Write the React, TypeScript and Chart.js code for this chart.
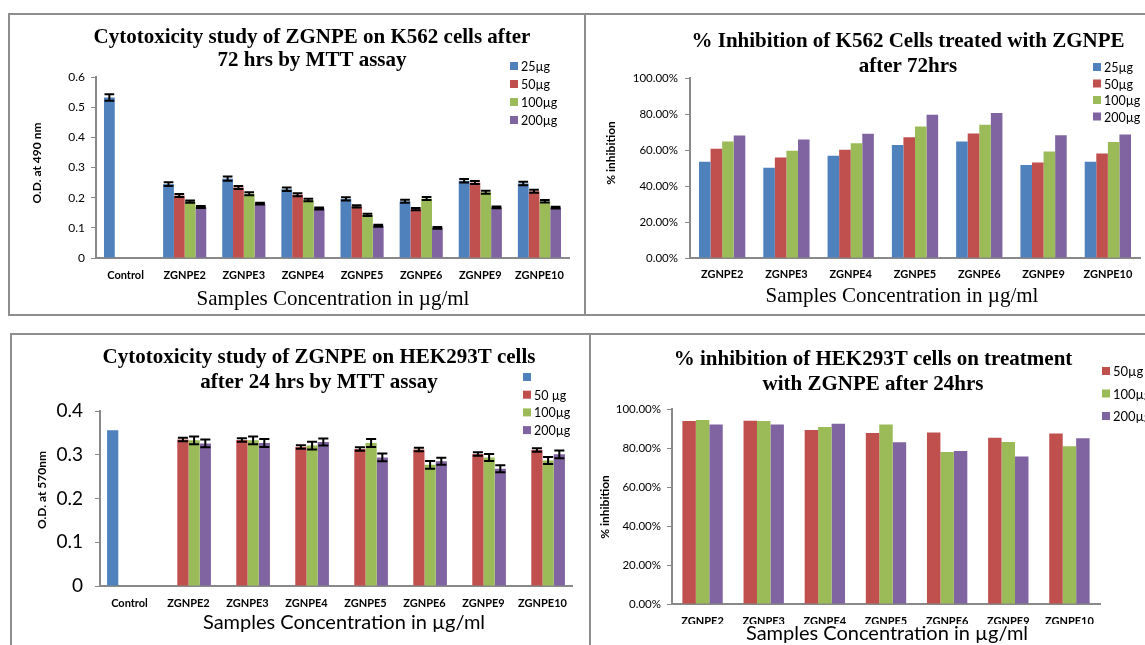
import React, { useEffect, useRef } from 'react';
import { Chart, registerables } from 'chart.js';

Chart.register(...registerables);

// ---- data ----
const odCategories = ['Control', 'ZGNPE2', 'ZGNPE3', 'ZGNPE4', 'ZGNPE5', 'ZGNPE6', 'ZGNPE9', 'ZGNPE10'];
const extractCategories = ['ZGNPE2', 'ZGNPE3', 'ZGNPE4', 'ZGNPE5', 'ZGNPE6', 'ZGNPE9', 'ZGNPE10'];

const k562Doses = ['25µg', '50µg', '100µg', '200µg'];
const hekOdDoses = ['', '50 µg', '100µg', '200µg'];
const hekInhDoses = ['50µg', '100µg', '200µg'];

// K562, O.D. at 490 nm after 72 hrs
const k562Od25 = [0.532, 0.245, 0.263, 0.228, 0.196, 0.188, 0.256, 0.247];
const k562Od50 = [null, 0.207, 0.234, 0.21, 0.171, 0.162, 0.25, 0.221];
const k562Od100 = [null, 0.187, 0.213, 0.192, 0.143, 0.197, 0.218, 0.188];
const k562Od200 = [null, 0.169, 0.18, 0.164, 0.107, 0.1, 0.168, 0.167];
const k562Err25 = [0.011, 0.006, 0.007, 0.006, 0.005, 0.005, 0.006, 0.006];
const k562Err50 = [null, 0.005, 0.005, 0.005, 0.004, 0.004, 0.005, 0.005];
const k562Err100 = [null, 0.004, 0.005, 0.004, 0.004, 0.005, 0.005, 0.004];
const k562Err200 = [null, 0.003, 0.003, 0.003, 0.003, 0.003, 0.003, 0.003];

// K562, % inhibition after 72 hrs
const k562Inh25 = [53.5, 50.1, 56.8, 62.8, 64.7, 51.6, 53.5];
const k562Inh50 = [60.7, 55.9, 60.2, 67.1, 69.2, 53.1, 58.1];
const k562Inh100 = [64.7, 59.6, 63.7, 73.1, 74.0, 59.1, 64.5];
const k562Inh200 = [68.0, 65.8, 69.0, 79.6, 80.6, 68.2, 68.6];

// HEK293T, O.D. at 570 nm after 24 hrs
const hekOdControl = [0.356, null, null, null, null, null, null, null];
const hekOd50 = [null, 0.335, 0.334, 0.318, 0.313, 0.312, 0.302, 0.311];
const hekOd100 = [null, 0.333, 0.333, 0.321, 0.327, 0.277, 0.294, 0.287];
const hekOd200 = [null, 0.326, 0.327, 0.329, 0.294, 0.285, 0.268, 0.301];
const hekErr50 = [null, 0.004, 0.004, 0.004, 0.004, 0.004, 0.004, 0.004];
const hekErr100 = [null, 0.009, 0.009, 0.009, 0.009, 0.009, 0.008, 0.008];
const hekErr200 = [null, 0.009, 0.009, 0.008, 0.009, 0.008, 0.008, 0.009];

// HEK293T, % inhibition after 24 hrs
const hekInh50 = [93.8, 94.0, 89.2, 87.7, 87.9, 85.3, 87.5];
const hekInh100 = [94.4, 93.8, 90.8, 92.0, 77.9, 83.1, 80.9];
const hekInh200 = [92.1, 92.1, 92.5, 82.9, 78.5, 75.7, 85.0];

// ---- styling ----
const BLUE = '#4F81BD';
const RED = '#C0504D';
const GREEN = '#9BBB59';
const PURPLE = '#8064A2';
const AXIS = '#898989';
const SANS = 'Lato, "Open Sans", sans-serif';
const SERIF = '"Liberation Serif", "Times New Roman", serif';

// Vertical error bars with caps, drawn from each dataset's `errors` list
const errorBarPlugin = {
  id: 'errorBars',
  afterDatasetsDraw(chart: any) {
    const { ctx } = chart;
    const yScale = chart.scales.y;
    chart.data.datasets.forEach((ds: any, di: number) => {
      const errs = ds.errors;
      if (!errs) return;
      const meta = chart.getDatasetMeta(di);
      meta.data.forEach((bar: any, i: number) => {
        const v = ds.data[i];
        const e = errs[i];
        if (v == null || e == null) return;
        const top = yScale.getPixelForValue(v + e);
        const bot = yScale.getPixelForValue(v - e);
        const half = bar.width * 0.45;
        ctx.save();
        ctx.strokeStyle = '#000';
        ctx.lineWidth = 2;
        ctx.beginPath();
        ctx.moveTo(bar.x, top);
        ctx.lineTo(bar.x, bot);
        ctx.moveTo(bar.x - half, top);
        ctx.lineTo(bar.x + half, top);
        ctx.moveTo(bar.x - half, bot);
        ctx.lineTo(bar.x + half, bot);
        ctx.stroke();
        ctx.restore();
      });
    });
  },
};

// Title, axis titles and legend placed at fixed spots on the canvas
function panelText(cfg: any) {
  return {
    id: 'panelText',
    afterDraw(chart: any) {
      const ctx = chart.ctx;
      ctx.save();
      ctx.fillStyle = '#000';
      ctx.textAlign = 'center';
      ctx.textBaseline = 'middle';
      const t = cfg.title;
      ctx.font = t.font;
      t.lines.forEach((line: string, i: number) => ctx.fillText(line, t.x, t.y + i * t.lineHeight));

      const xt = cfg.xTitle;
      ctx.font = xt.font;
      ctx.fillText(xt.text, xt.x, xt.y);

      const yt = cfg.yTitle;
      ctx.save();
      ctx.translate(yt.x, yt.y);
      ctx.rotate(-Math.PI / 2);
      ctx.font = yt.font;
      ctx.fillText(yt.text, 0, 0);
      ctx.restore();

      const lg = cfg.legend;
      ctx.textAlign = 'left';
      ctx.font = lg.font;
      chart.data.datasets.forEach((ds: any, i: number) => {
        const cy = lg.y + i * lg.gap;
        ctx.fillStyle = ds.backgroundColor;
        ctx.fillRect(lg.x, cy - lg.box / 2, lg.box, lg.box);
        ctx.fillStyle = '#000';
        ctx.fillText(ds.label, lg.x + lg.box + 3, cy + 1);
      });
      ctx.restore();
    },
  };
}

function makeScales(o: any) {
  return {
    x: {
      grid: { display: false, drawTicks: false },
      border: { display: true, color: AXIS, width: 2 },
      ticks: {
        font: { family: SANS, size: 11, weight: 'bold' },
        color: '#000',
        padding: o.xPad,
        maxRotation: 0,
        autoSkip: false,
      },
      afterFit: (s: any) => {
        s.height = o.xHeight;
      },
    },
    y: {
      min: o.min,
      max: o.max,
      ticks: {
        stepSize: o.step,
        font: { family: SANS, size: o.yFontSize },
        color: '#000',
        padding: o.yPad,
        callback: o.fmt,
      },
      grid: { display: true, drawOnChartArea: false, drawTicks: true, tickLength: 5, color: AXIS, lineWidth: 1 },
      border: { display: true, color: AXIS, width: 2 },
      afterFit: (s: any) => {
        s.width = o.yWidth;
      },
    },
  };
}

const pct = (v: any) => Number(v).toFixed(2) + '%';
const od = (v: any) => String(Number(Number(v).toFixed(1)));

function barSet(label: string, data: any[], color: string, errors?: any[]) {
  return { label, data, backgroundColor: color, borderWidth: 0, errors };
}

const baseOptions = {
  responsive: false,
  animation: false,
  devicePixelRatio: 1,
  events: [],
};
const hidden = { legend: { display: false }, title: { display: false }, tooltip: { enabled: false } };

function k562OdConfig() {
  return {
    type: 'bar',
    data: {
      labels: odCategories,
      datasets: [
        barSet(k562Doses[0], k562Od25, BLUE, k562Err25),
        barSet(k562Doses[1], k562Od50, RED, k562Err50),
        barSet(k562Doses[2], k562Od100, GREEN, k562Err100),
        barSet(k562Doses[3], k562Od200, PURPLE, k562Err200),
      ],
    },
    options: {
      ...baseOptions,
      datasets: { bar: { categoryPercentage: 0.73, barPercentage: 1 } },
      layout: { padding: { left: 36, right: 15, top: 62, bottom: 26 } },
      plugins: hidden,
      scales: makeScales({ min: 0, max: 0.6, step: 0.1, yFontSize: 12, yPad: 6, yWidth: 50, xHeight: 30, xPad: 11, fmt: od }),
    },
    plugins: [
      errorBarPlugin,
      panelText({
        title: { lines: ['Cytotoxicity study of ZGNPE on K562 cells after', '72 hrs by MTT assay'], x: 302, y: 23, lineHeight: 23, font: `bold 21px ${SERIF}` },
        xTitle: { text: 'Samples Concentration in µg/ml', x: 323, y: 284, font: `21px ${SERIF}` },
        yTitle: { text: 'O.D. at 490 nm', x: 27, y: 148, font: `bold 12px ${SANS}` },
        legend: { x: 500, y: 51, gap: 18, box: 8, font: `12.5px ${SANS}` },
      }),
    ],
  };
}

function k562InhConfig() {
  return {
    type: 'bar',
    data: {
      labels: extractCategories,
      datasets: [
        barSet(k562Doses[0], k562Inh25, BLUE),
        barSet(k562Doses[1], k562Inh50, RED),
        barSet(k562Doses[2], k562Inh100, GREEN),
        barSet(k562Doses[3], k562Inh200, PURPLE),
      ],
    },
    options: {
      ...baseOptions,
      datasets: { bar: { categoryPercentage: 0.72, barPercentage: 1 } },
      layout: { padding: { left: 37, right: 5, top: 63, bottom: 26 } },
      plugins: hidden,
      scales: makeScales({ min: 0, max: 100, step: 20, yFontSize: 11.5, yPad: 7, yWidth: 65, xHeight: 30, xPad: 10, fmt: pct }),
    },
    plugins: [
      panelText({
        title: { lines: ['% Inhibition of K562 Cells treated with ZGNPE', 'after 72hrs'], x: 320, y: 27, lineHeight: 25, font: `bold 21px ${SERIF}` },
        xTitle: { text: 'Samples Concentration in µg/ml', x: 314, y: 281, font: `21px ${SERIF}` },
        yTitle: { text: '% inhibition', x: 23, y: 138, font: `bold 12px ${SANS}` },
        legend: { x: 505, y: 52, gap: 16.5, box: 8, font: `12.5px ${SANS}` },
      }),
    ],
  };
}

function hekOdConfig() {
  return {
    type: 'bar',
    data: {
      labels: odCategories,
      datasets: [
        barSet(hekOdDoses[0], hekOdControl, BLUE),
        barSet(hekOdDoses[1], hekOd50, RED, hekErr50),
        barSet(hekOdDoses[2], hekOd100, GREEN, hekErr100),
        barSet(hekOdDoses[3], hekOd200, PURPLE, hekErr200),
      ],
    },
    options: {
      ...baseOptions,
      datasets: { bar: { categoryPercentage: 0.76, barPercentage: 1 } },
      layout: { padding: { left: 28, right: 17, top: 76, bottom: 29 } },
      plugins: hidden,
      scales: makeScales({ min: 0, max: 0.4, step: 0.1, yFontSize: 19, yPad: 12, yWidth: 60, xHeight: 30, xPad: 11, fmt: od }),
    },
    plugins: [
      errorBarPlugin,
      panelText({
        title: { lines: ['Cytotoxicity study of ZGNPE on HEK293T cells', 'after 24 hrs by MTT assay'], x: 307, y: 23, lineHeight: 25, font: `bold 21px ${SERIF}` },
        xTitle: { text: 'Samples Concentration in µg/ml', x: 332, y: 288, font: `20px ${SANS}` },
        yTitle: { text: 'O.D. at 570nm', x: 30, y: 155, font: `bold 12px ${SANS}` },
        legend: { x: 511, y: 42, gap: 17.7, box: 8, font: `12.5px ${SANS}` },
      }),
    ],
  };
}

function hekInhConfig() {
  return {
    type: 'bar',
    data: {
      labels: extractCategories,
      datasets: [
        barSet(hekInhDoses[0], hekInh50, RED),
        barSet(hekInhDoses[1], hekInh100, GREEN),
        barSet(hekInhDoses[2], hekInh200, PURPLE),
      ],
    },
    options: {
      ...baseOptions,
      datasets: { bar: { categoryPercentage: 0.66, barPercentage: 1 } },
      layout: { padding: { left: 14, right: 45, top: 74, bottom: 21 } },
      plugins: hidden,
      scales: makeScales({ min: 0, max: 100, step: 20, yFontSize: 11.5, yPad: 6, yWidth: 65, xHeight: 20, xPad: 11, fmt: pct }),
    },
    plugins: [
      panelText({
        title: { lines: ['% inhibition of HEK293T cells on treatment', 'with ZGNPE after 24hrs'], x: 280, y: 25, lineHeight: 25, font: `bold 21px ${SERIF}` },
        xTitle: { text: 'Samples Concentration in µg/ml', x: 294, y: 299, font: `20px ${SANS}` },
        yTitle: { text: '% inhibition', x: 12, y: 172, font: `bold 12px ${SANS}` },
        legend: { x: 509, y: 36, gap: 22.5, box: 8, font: `13px ${SANS}` },
      }),
    ],
  };
}

function ChartCanvas({ left, top, width, height, build }: any) {
  const ref = useRef<HTMLCanvasElement>(null);
  useEffect(() => {
    const chart = new Chart(ref.current as HTMLCanvasElement, build() as any);
    return () => chart.destroy();
  }, []);
  return (
    <canvas
      ref={ref}
      width={width}
      height={height}
      style={{ position: 'absolute', left, top, width, height }}
    />
  );
}

function Frame({ left, top, width, height }: any) {
  return (
    <div
      style={{
        position: 'absolute',
        left,
        top,
        width,
        height,
        boxSizing: 'border-box',
        border: '2px solid #8E8E8E',
      }}
    />
  );
}

export default function App() {
  return (
    <div
      style={{
        position: 'absolute',
        left: 0,
        top: 0,
        width: 1145,
        height: 645,
        overflow: 'hidden',
        background: '#fff',
      }}
    >
      <Frame left={8} top={13} width={578} height={303} />
      <Frame left={584} top={13} width={600} height={303} />
      <Frame left={10} top={333} width={581} height={400} />
      <Frame left={589} top={333} width={600} height={400} />
      <ChartCanvas left={10} top={15} width={574} height={299} build={k562OdConfig} />
      <ChartCanvas left={588} top={15} width={557} height={299} build={k562InhConfig} />
      <ChartCanvas left={12} top={335} width={577} height={310} build={hekOdConfig} />
      <ChartCanvas left={593} top={335} width={552} height={310} build={hekInhConfig} />
    </div>
  );
}
